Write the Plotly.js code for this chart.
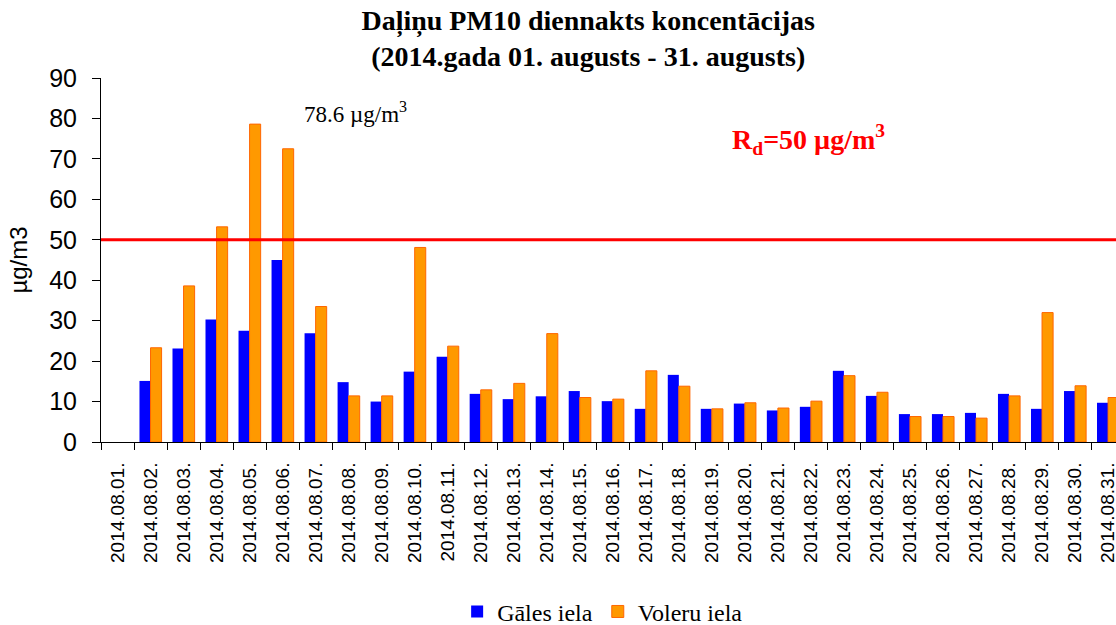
<!DOCTYPE html>
<html>
<head>
<meta charset="utf-8">
<script src="https://cdn.plot.ly/plotly-3.0.1.min.js"></script>
<style>html,body{margin:0;padding:0;background:#fff;}#chart{width:1116px;height:625px;}</style>
</head>
<body>
<div id="chart"></div>
<script>
const dates = ["2014.08.01.","2014.08.02.","2014.08.03.","2014.08.04.","2014.08.05.","2014.08.06.","2014.08.07.","2014.08.08.","2014.08.09.","2014.08.10.","2014.08.11.","2014.08.12.","2014.08.13.","2014.08.14.","2014.08.15.","2014.08.16.","2014.08.17.","2014.08.18.","2014.08.19.","2014.08.20.","2014.08.21.","2014.08.22.","2014.08.23.","2014.08.24.","2014.08.25.","2014.08.26.","2014.08.27.","2014.08.28.","2014.08.29.","2014.08.30.","2014.08.31."];
const galesIela = [null,15.1,23.1,30.3,27.5,45.0,26.9,14.8,10.0,17.4,21.1,11.9,10.6,11.3,12.6,10.1,8.2,16.6,8.2,9.5,7.8,8.7,17.6,11.4,6.9,6.9,7.2,11.9,8.2,12.6,9.7];
const voleruIela = [null,23.3,38.6,53.2,78.6,72.5,33.5,11.4,11.4,48.1,23.7,12.9,14.5,26.8,11.0,10.6,17.6,13.8,8.2,9.7,8.4,10.1,16.4,12.3,6.3,6.3,5.9,11.4,32.0,13.9,11.0];
const limitValue = 50;
const yTicks = [0,10,20,30,40,50,60,70,80,90];

const serif = "Liberation Serif, Times New Roman, serif";
const sans = "Liberation Sans, Arial, sans-serif";

const traces = [
  {type:"bar", name:"Gāles iela", x:dates, y:galesIela,
   marker:{color:"#0000FF", line:{color:"#0000FF", width:0}}},
  {type:"bar", name:"Voleru iela", x:dates, y:voleruIela,
   marker:{color:"#FF9900", line:{color:"#FF6600", width:1}}}
];

const layout = {
  width:1116, height:625,
  margin:{l:101, r:0, t:78, b:183, pad:0},
  paper_bgcolor:"#fff", plot_bgcolor:"#fff",
  barmode:"group", bargap:0.33, bargroupgap:0,
  showlegend:true,
  legend:{orientation:"h", xref:"container", yref:"container", x:0.54, xanchor:"center", y:0.021, yanchor:"middle",
          font:{family:serif, size:24, color:"#000"},
          itemwidth:30, tracegroupgap:0},
  title:{text:"<b>Daļiņu PM10 diennakts koncentācijas<br>(2014.gada 01. augusts - 31. augusts)</b>",
         xref:"paper", x:0.48, xanchor:"center", yref:"container", y:0.952, yanchor:"middle",
         font:{family:serif, size:28, color:"#000"}},
  xaxis:{type:"category", range:[-0.5, 30.24], tickangle:-90, tickson:"boundaries", automargin:false,
         ticks:"outside", ticklen:7, tickcolor:"#000", showline:true, linecolor:"#000", linewidth:1,
         showgrid:false, zeroline:false, ticklabelstandoff:12,
         tickfont:{family:sans, size:19, color:"#000"}},
  yaxis:{range:[0,90], tickvals:yTicks, ticks:"outside", ticklen:8, tickcolor:"#000", automargin:false,
         showline:true, linecolor:"#000", linewidth:1, showgrid:false, zeroline:false, ticklabelstandoff:10,
         tickfont:{family:sans, size:25, color:"#000"},
         title:{text:"µg/m3", standoff:14, font:{family:sans, size:24, color:"#000"}}},
  shapes:[{type:"line", xref:"paper", x0:0, x1:1, yref:"y", y0:limitValue, y1:limitValue,
           line:{color:"#FF0000", width:3}}],
  annotations:[
    {xref:"x", yref:"paper", x:7.2, y:0.95, showarrow:false,
     text:"78.6 µg/m<sup>3</sup>", font:{family:serif, size:23, color:"#000"}},
    {xref:"x", yref:"paper", x:20.93, y:0.889, showarrow:false,
     text:"<b>R<sub>d</sub>=50 µg/m<sup>3</sup></b>", font:{family:serif, size:28, color:"#FF0000"}}
  ]
};

Plotly.newPlot("chart", traces, layout, {displayModeBar:false, staticPlot:true});
</script>
</body>
</html>
